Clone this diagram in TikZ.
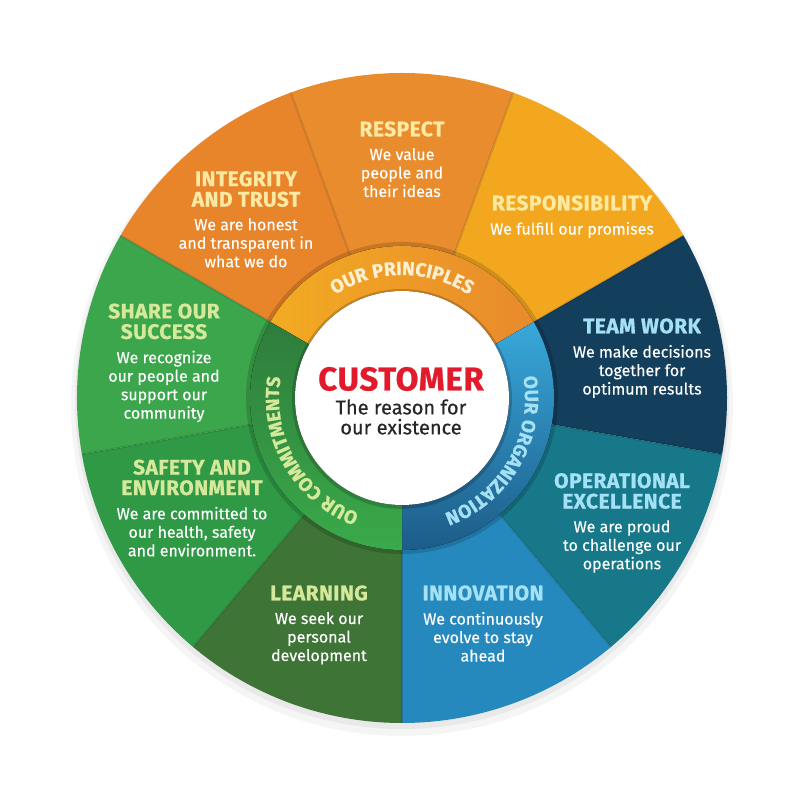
\documentclass[tikz,border=0pt]{standalone}
\usepackage{fontspec}
\setmainfont{Fira Sans}
\newfontfamily\heavyfont{Fira Sans}[FakeBold=0.7, LetterSpace=2]
\newfontfamily\medfont{Fira Sans}[FakeBold=0.4]
\newfontfamily\descfont{Fira Sans}[FakeBold=0.25]
\usepackage{tikz}
\usetikzlibrary{positioning, decorations.text}
\usepackage{xcolor}

% segment colours
\definecolor{intcol}{HTML}{E8842A}
\definecolor{rspcol}{HTML}{E98C2D}
\definecolor{rsbcol}{HTML}{F3A71F}
\definecolor{teamcol}{HTML}{133E5C}
\definecolor{opexcol}{HTML}{167889}
\definecolor{inncol}{HTML}{2589BE}
\definecolor{lrncol}{HTML}{3E7436}
\definecolor{safcol}{HTML}{2F9946}
\definecolor{shrcol}{HTML}{3BA64C}
% ring colours
\definecolor{prinl}{HTML}{F3AB22}
\definecolor{prinr}{HTML}{E88A2C}
\definecolor{orgtop}{HTML}{38A8DA}
\definecolor{orgbot}{HTML}{1D5C89}
\definecolor{cmttop}{HTML}{2E7C3C}
\definecolor{cmtbot}{HTML}{3AAA4A}
% text colours
\definecolor{ptxt}{HTML}{FCE9A2}
\definecolor{otxt}{HTML}{A5E1F5}
\definecolor{ctxt}{HTML}{D6E99B}
\definecolor{plbl}{HTML}{FDEFD2}
\definecolor{custred}{HTML}{E21B2C}

\pgfdeclareradialshading{disc}{\pgfpoint{0bp}{0bp}}{color(0bp)=(white); color(32bp)=(white); color(50bp)=(black!20)}

\newcommand{\ringfont}{\fontsize{19}{19}\selectfont\heavyfont\bfseries}

\begin{document}
\begin{tikzpicture}[
  x=1pt, y=1pt,
  node distance=11pt,
  ttl/.style={font=\fontsize{21}{20.5}\selectfont\heavyfont\bfseries, align=center,
              inner sep=0pt},
  ptitle/.style={ttl, text=ptxt},
  otitle/.style={ttl, text=otxt},
  ctitle/.style={ttl, text=ctxt},
  desc/.style={font=\fontsize{16}{18.5}\selectfont\descfont, align=center,
               inner sep=0pt, text=white},
  edge/.style={black, opacity=0.12, line width=2pt},
  ringlbl/.style={decorate, decoration={text along path, text align=center,
                  text format delimiters={|}{|}}}
]
\useasboundingbox (-402,-396) rectangle (398,398);

% ----- shadow -----
\fill[black, opacity=0.04] (0,-7) circle (331);
\fill[black, opacity=0.05] (0,-4) circle (327);

% ----- outer segments -----
\fill[intcol]  (0,0) -- (150:325) arc[start angle=150, end angle=110, radius=325] -- cycle;
\fill[rspcol]  (0,0) -- (110:325) arc[start angle=110, end angle=70,  radius=325] -- cycle;
\fill[rsbcol]  (0,0) -- (70:325)  arc[start angle=70,  end angle=30,  radius=325] -- cycle;
\fill[teamcol] (0,0) -- (30:325)  arc[start angle=30,  end angle=-10, radius=325] -- cycle;
\fill[opexcol] (0,0) -- (-10:325) arc[start angle=-10, end angle=-50, radius=325] -- cycle;
\fill[inncol]  (0,0) -- (-50:325) arc[start angle=-50, end angle=-90, radius=325] -- cycle;
\fill[lrncol]  (0,0) -- (270:325) arc[start angle=270, end angle=230, radius=325] -- cycle;
\fill[safcol]  (0,0) -- (230:325) arc[start angle=230, end angle=190, radius=325] -- cycle;
\fill[shrcol]  (0,0) -- (190:325) arc[start angle=190, end angle=150, radius=325] -- cycle;

\draw[edge] (0,0) -- (150:325);
\draw[edge] (0,0) -- (110:325);
\draw[edge] (0,0) -- (70:325);
\draw[edge] (0,0) -- (30:325);
\draw[edge] (0,0) -- (-10:325);
\draw[edge] (0,0) -- (-50:325);
\draw[edge] (0,0) -- (-90:325);
\draw[edge] (0,0) -- (230:325);
\draw[edge] (0,0) -- (190:325);

% ----- middle ring -----
\fill[black, opacity=0.15] (0,0) circle (156);
\fill[left color=prinl, right color=prinr]
  (0,0) -- (150:152) arc[start angle=150, end angle=30, radius=152] -- cycle;
\fill[top color=orgtop, bottom color=orgbot]
  (0,0) -- (30:152) arc[start angle=30, end angle=-90, radius=152] -- cycle;
\fill[top color=cmttop, bottom color=cmtbot]
  (0,0) -- (270:152) arc[start angle=270, end angle=150, radius=152] -- cycle;

\path[ringlbl, decoration={text={|\ringfont|OUR PRINCIPLES}, text color=plbl}]
  (150:123) arc[start angle=150, end angle=30, radius=123];
\path[ringlbl, decoration={text={|\ringfont|OUR ORGANIZATION}, text color=otxt}]
  (30:123) arc[start angle=30, end angle=-90, radius=123];
\path[ringlbl, decoration={text={|\ringfont|OUR COMMITMENTS}, text color=ctxt}]
  (270:123) arc[start angle=270, end angle=150, radius=123];

% ----- centre -----
\fill[black, opacity=0.18] (0,-1) circle (110);
\fill[shading=disc] (0,0) circle (107);
\node[font=\fontsize{33}{33}\selectfont\heavyfont\bfseries, text=custred, inner sep=0pt]
  (customer) at (-1,19) {CUSTOMER};
\node[font=\fontsize{20}{20}\selectfont\medfont, text=black!85, align=center,
  inner sep=0pt, below=8pt of customer] (reason) {The reason for\\our existence};

% ----- our principles -----
\node[ptitle] (respect) at (0,269) {RESPECT};
\node[desc, below=of respect] (respectd) {We value\\people and\\their ideas};

\node[ptitle] (integrity) at (-156,209) {INTEGRITY\\AND TRUST};
\node[desc, below=of integrity] (integrityd) {We are honest\\and transparent in\\what we do};

\node[ptitle] (resp) at (170,195) {RESPONSIBILITY};
\node[desc, below=of resp] (respd) {We fulfill our promises};

% ----- our organization -----
\node[otitle] (team) at (240,72) {TEAM WORK};
\node[desc, below=of team] (teamd) {We make decisions\\together for\\optimum results};

\node[otitle] (opex) at (220,-93) {OPERATIONAL\\EXCELLENCE};
\node[desc, below=of opex] (opexd) {We are proud\\to challenge our\\operations};

\node[otitle] (innov) at (81,-195) {INNOVATION};
\node[desc, below=of innov] (innovd) {We continuously\\evolve to stay\\ahead};

% ----- our commitments -----
\node[ctitle] (learn) at (-83,-195) {LEARNING};
\node[desc, below=of learn] (learnd) {We seek our\\personal\\development};

\node[ctitle] (safety) at (-210,-79.5) {SAFETY AND\\ENVIRONMENT};
\node[desc, below=of safety] (safetyd) {We are committed to\\our health, safety\\and environment.};

\node[ctitle] (share) at (-238,76.6) {SHARE OUR\\SUCCESS};
\node[desc, below=of share] (shared) {We recognize\\our people and\\support our\\community};

\end{tikzpicture}
\end{document}
